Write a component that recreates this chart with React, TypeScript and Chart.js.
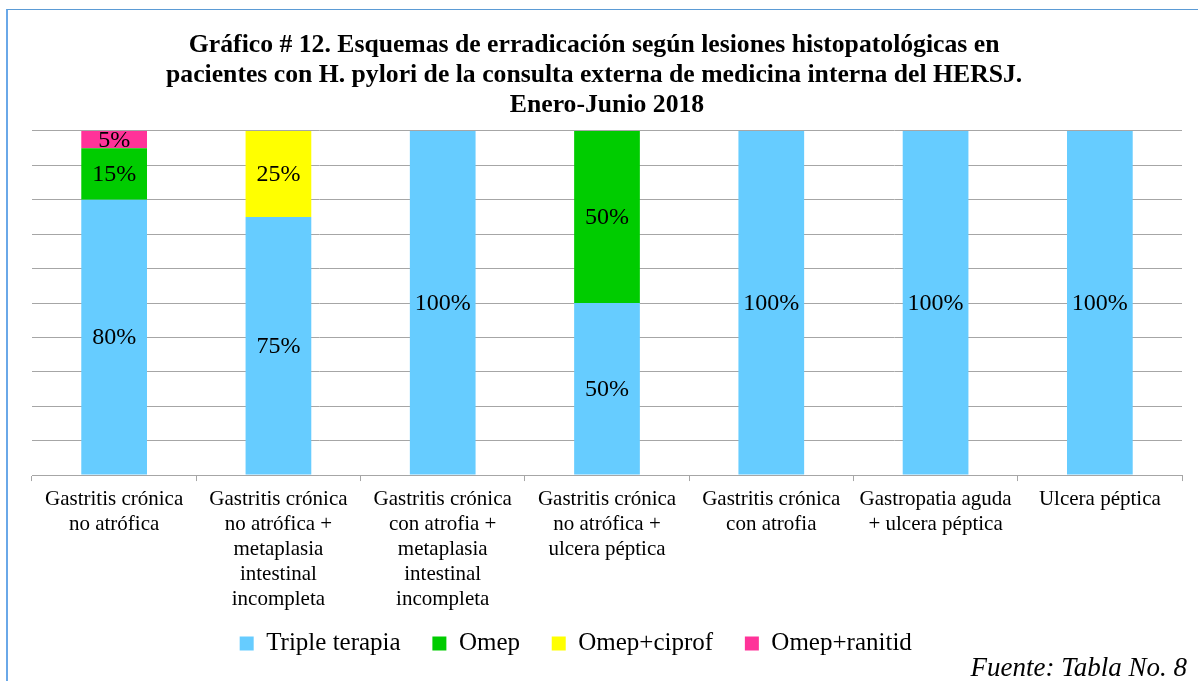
import React, { useEffect, useRef } from "react";
import { Chart, registerables } from "chart.js";

Chart.register(...registerables);

const categories: string[][] = [
  ["Gastritis crónica", "no atrófica"],
  ["Gastritis crónica", "no atrófica +", "metaplasia", "intestinal", "incompleta"],
  ["Gastritis crónica", "con atrofia +", "metaplasia", "intestinal", "incompleta"],
  ["Gastritis crónica", "no atrófica +", "ulcera péptica"],
  ["Gastritis crónica", "con atrofia"],
  ["Gastropatia aguda", "+ ulcera péptica"],
  ["Ulcera péptica"],
];

const tripleTerapia = [80, 75, 100, 50, 100, 100, 100];
const omep = [15, 0, 0, 50, 0, 0, 0];
const omepCiprof = [0, 25, 0, 0, 0, 0, 0];
const omepRanitid = [5, 0, 0, 0, 0, 0, 0];

const titleLines = [
  "Gráfico # 12. Esquemas de erradicación según lesiones histopatológicas en    ",
  "pacientes con H. pylori de la consulta externa de medicina interna del HERSJ.    ",
  "Enero-Junio 2018",
];

const SERIF = "'Liberation Serif', 'Times New Roman', serif";

const valueLabels = {
  id: "valueLabels",
  afterDatasetsDraw(chart: any) {
    const ctx = chart.ctx;
    ctx.save();
    ctx.font = `24px ${SERIF}`;
    ctx.fillStyle = "#000";
    ctx.textAlign = "center";
    ctx.textBaseline = "middle";
    chart.data.datasets.forEach((ds: any, i: number) => {
      const meta = chart.getDatasetMeta(i);
      meta.data.forEach((el: any, j: number) => {
        const v = ds.data[j];
        if (!v) return;
        const y = (el.y + el.base) / 2 + 1;
        ctx.fillText(v + "%", el.x, y);
      });
    });
    ctx.restore();
  },
};

export default function App() {
  const ref = useRef<HTMLCanvasElement | null>(null);
  useEffect(() => {
    if (!ref.current) return;
    const baseGen = (Chart as any).defaults.plugins.legend.labels.generateLabels;
    const chart = new Chart(ref.current, {
      type: "bar",
      data: {
        labels: categories as any,
        datasets: [
          { label: "Triple terapia", data: tripleTerapia, backgroundColor: "#66ccff" },
          { label: "Omep", data: omep, backgroundColor: "#00cc00" },
          { label: "Omep+ciprof", data: omepCiprof, backgroundColor: "#ffff00" },
          { label: "Omep+ranitid", data: omepRanitid, backgroundColor: "#ff3399" },
        ],
      },
      options: {
        animation: false,
        responsive: false,
        maintainAspectRatio: false,
        datasets: { bar: { barPercentage: 0.4, categoryPercentage: 1 } } as any,
        layout: { padding: { left: 32, right: 16, top: 0, bottom: 15 } },
        plugins: {
          title: {
            display: true,
            text: titleLines,
            color: "#000",
            font: { family: SERIF, size: 25.7, weight: "bold", lineHeight: 1.167 },
            padding: { top: 30, bottom: 11 },
          },
          legend: {
            position: "bottom",
            labels: {
              color: "#000",
              font: { family: SERIF, size: 25 },
              boxWidth: 14,
              boxHeight: 14,
              padding: 13,
              generateLabels: (c: any) => {
                const items = baseGen(c);
                return items.map((it: any, i: number) => ({
                  ...it,
                  text: it.text + (i === items.length - 1 ? "          " : "   "),
                }));
              },
            },
          },
          tooltip: { enabled: false },
        },
        scales: {
          x: {
            stacked: true,
            grid: { drawOnChartArea: false, drawTicks: true, tickLength: 6, color: "#a6a6a6" },
            border: { color: "#a6a6a6" },
            ticks: {
              color: "#000",
              font: { family: SERIF, size: 21, lineHeight: 1.19 },
              maxRotation: 0,
              autoSkip: false,
              padding: 6,
            },
          },
          y: {
            stacked: true,
            min: 0,
            max: 100,
            ticks: { display: false, stepSize: 10 },
            border: { display: false },
            grid: { color: "#a6a6a6", drawTicks: false },
          },
        },
      },
      plugins: [valueLabels],
    });
    return () => chart.destroy();
  }, []);

  return (
    <div style={{ position: "fixed", left: 0, top: 0, width: 1198, height: 681, background: "#fff", overflow: "hidden" }}>
      <canvas ref={ref} width={1198} height={681} style={{ position: "absolute", left: 0, top: 0 }} />
      <div
        style={{
          position: "absolute",
          left: 6,
          top: 9,
          width: 1300,
          height: 800,
          borderTop: "1px solid #5b9bd5",
          borderLeft: "2px solid #6aa8e8",
          pointerEvents: "none",
        }}
      />
      <div
        style={{
          position: "absolute",
          right: 11,
          top: 651,
          fontFamily: SERIF,
          fontStyle: "italic",
          fontSize: 27,
          lineHeight: "32px",
          color: "#000",
        }}
      >
        Fuente: Tabla No. 8
      </div>
    </div>
  );
}
